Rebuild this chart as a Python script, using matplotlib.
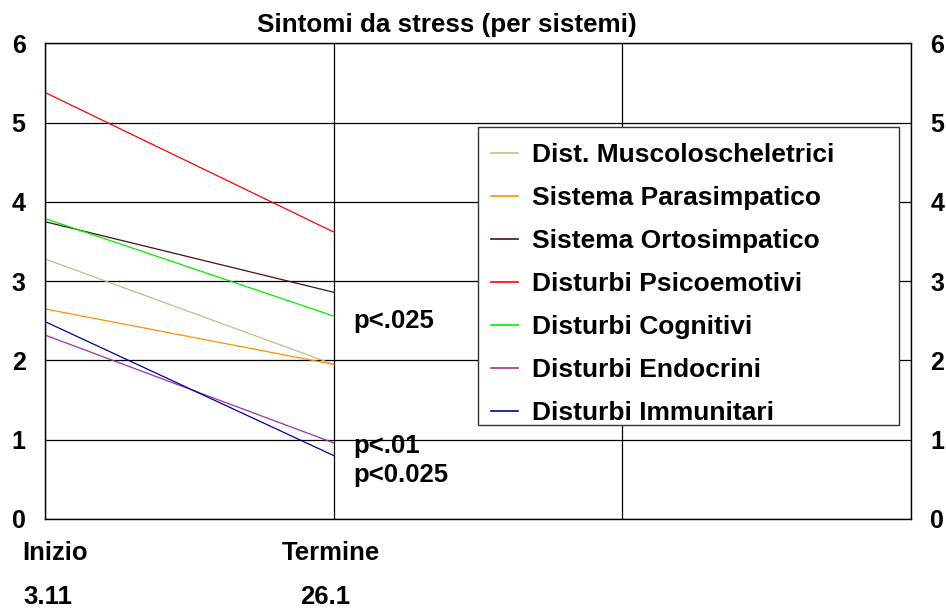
import matplotlib.pyplot as plt
from matplotlib.patches import Rectangle

plt.rcParams['font.family'] = ['Liberation Sans', 'DejaVu Sans']
plt.rcParams['font.weight'] = 'bold'

# dati
periodi = ['Inizio', 'Termine']
date = ['3.11', '26.1']
serie = ['Dist. Muscoloscheletrici', 'Sistema Parasimpatico', 'Sistema Ortosimpatico',
         'Disturbi Psicoemotivi', 'Disturbi Cognitivi', 'Disturbi Endocrini',
         'Disturbi Immunitari']
inizio = [3.28, 2.65, 3.75, 5.38, 3.79, 2.32, 2.49]
termine = [1.95, 1.95, 2.86, 3.62, 2.56, 0.96, 0.80]
colori = ['#D2B48C', '#FF9000', '#4A1010', '#FF0000', '#00EE00', '#A030A0', '#0000A0']
note_p = ['p<.025', 'p<.01', 'p<0.025']
note_y = [2.41, 0.83, 0.47]

fig = plt.figure(figsize=(9.46, 6.08), dpi=100)
ax = fig.add_axes([45/946, 1-519/608, (911-45)/946, (519-43.3)/608])

x = list(range(len(periodi)))
for nome, a, b, c in zip(serie, inizio, termine, colori):
    ax.plot(x, [a, b], color=c, lw=0.9, label=nome)

ax.set_xlim(0, 3)
ax.set_ylim(0, 6)
ax.set_xticks([0, 1, 2, 3])
ax.set_xticklabels([])
ax.set_yticks(range(7))
ax.tick_params(axis='y', length=0, labelsize=18, pad=14, labelright=True)
ax.tick_params(axis='x', length=0)
ax.grid(True, color='black', lw=0.9)
for s in ax.spines.values():
    s.set_linewidth(1.0)

# etichette sotto l'asse
sx_per = [-0.08, -0.18]
sx_data = [-0.076, -0.115]
for i, (p, d) in enumerate(zip(periodi, date)):
    ax.text(i + sx_per[i], -0.086, p, transform=ax.get_xaxis_transform(),
            ha='left', va='baseline', fontsize=18.5, fontweight='bold')
    ax.text(i + sx_data[i], -0.178, d, transform=ax.get_xaxis_transform(),
            ha='left', va='baseline', fontsize=18.5, fontweight='bold')

for t, yy in zip(note_p, note_y):
    ax.text(1.067, yy, t, ha='left', va='baseline', fontsize=18.5, fontweight='bold')

fig.text(447/946, 1-32/608, 'Sintomi da stress (per sistemi)', ha='center', va='baseline',
         fontsize=18.7, fontweight='bold')

# legenda con cornice più larga del contenuto
ax.add_patch(Rectangle((478/946, 1-425/608), (899-478)/946, (425-127)/608,
                       transform=fig.transFigure, facecolor='white',
                       edgecolor='#333333', lw=1.0, zorder=4, clip_on=False))
leg = ax.legend(loc='upper left', bbox_to_anchor=(478/946, 1-130/608),
                bbox_transform=fig.transFigure, frameon=False, fontsize=19,
                handlelength=1.0, handletextpad=0.55, labelspacing=0.72,
                borderaxespad=0, borderpad=0.5)
for h in leg.legend_handles:
    h.set_linewidth(1.2)
leg.set_zorder(5)

fig.savefig('out.png', dpi=100)
